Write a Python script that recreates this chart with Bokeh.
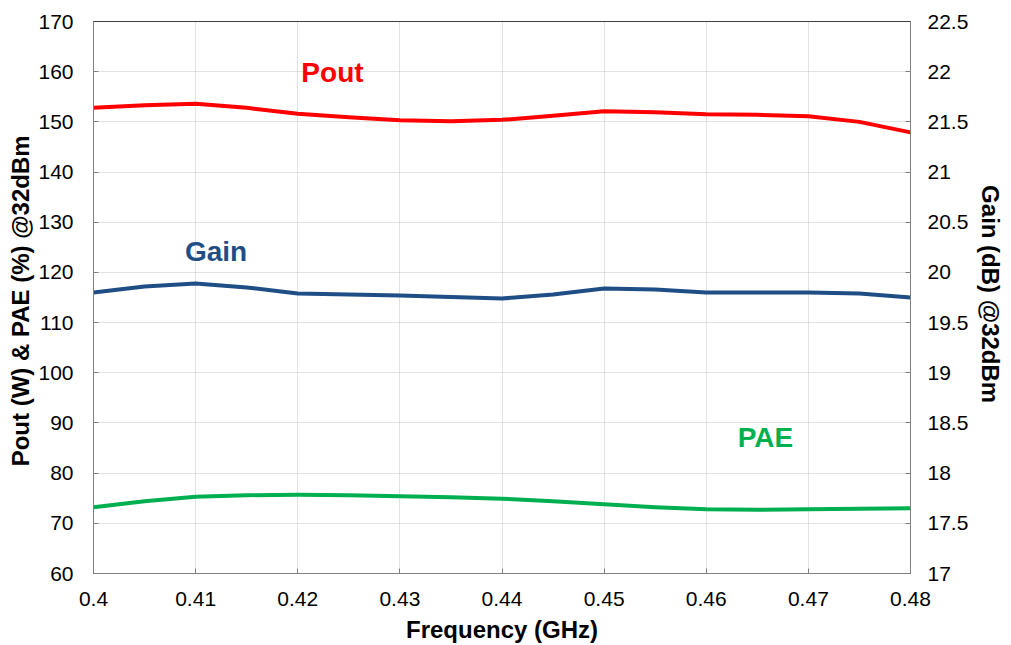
from bokeh.plotting import figure
from bokeh.models import Range1d, LinearAxis, Label, Span, FixedTicker
from bokeh.embed import file_html
from bokeh.resources import INLINE

freq = [0.400, 0.405, 0.410, 0.415, 0.420, 0.425, 0.430, 0.435, 0.440,
        0.445, 0.450, 0.455, 0.460, 0.465, 0.470, 0.475, 0.480]
pout = [152.8, 153.3, 153.6, 152.8, 151.6, 150.9, 150.3, 150.1, 150.4,
        151.2, 152.1, 151.9, 151.5, 151.4, 151.1, 150.0, 147.9]
gain = [19.80, 19.86, 19.89, 19.85, 19.79, 19.78, 19.77, 19.755, 19.74,
        19.78, 19.84, 19.83, 19.80, 19.80, 19.80, 19.79, 19.75]
pae = [73.2, 74.4, 75.3, 75.6, 75.7, 75.6, 75.4, 75.2, 74.9,
       74.4, 73.8, 73.2, 72.8, 72.7, 72.8, 72.9, 73.0]

x_ticks = [0.40, 0.41, 0.42, 0.43, 0.44, 0.45, 0.46, 0.47, 0.48]
left_ticks = [60, 70, 80, 90, 100, 110, 120, 130, 140, 150, 160, 170]
right_ticks = [17, 17.5, 18, 18.5, 19, 19.5, 20, 20.5, 21, 21.5, 22, 22.5]

FONT = "Liberation Sans"
GRID = "#c4c4c4"
AXC = "#808080"

p = figure(frame_width=817, frame_height=552, output_backend="svg", toolbar_location=None,
           x_range=Range1d(0.4, 0.48), y_range=Range1d(60, 170),
           min_border_left=93, min_border_right=10, min_border_top=21, min_border_bottom=10)
p.extra_y_ranges = {"gain": Range1d(17, 22.5)}
p.outline_line_color = AXC
p.background_fill_color = "white"
p.border_fill_color = "white"

for g in (p.xgrid, p.ygrid):
    g.grid_line_color = GRID
    g.grid_line_dash = "1 1"
    g.grid_line_width = 1

def style(ax, ticks, standoff):
    ax.ticker = FixedTicker(ticks=ticks)
    ax.axis_line_color = AXC
    ax.major_tick_line_color = AXC
    ax.major_tick_in = 5
    ax.major_tick_out = 0
    ax.minor_tick_line_color = None
    ax.major_label_text_font = FONT
    ax.major_label_text_font_size = "21px"
    ax.major_label_text_color = "#000000"
    ax.major_label_standoff = standoff
    ax.axis_label_text_font = FONT
    ax.axis_label_text_font_size = "24px"
    ax.axis_label_text_font_style = "bold"
    ax.axis_label_text_color = "#000000"

xa = p.xaxis[0]
style(xa, x_ticks, 18)
xa.axis_label = "Frequency (GHz)"
xa.axis_label_standoff = 7
xa.major_label_overrides = {t: ("%g" % t) for t in x_ticks}

ya = p.yaxis[0]
style(ya, left_ticks, 20)
ya.axis_label = "Pout (W) & PAE (%)  @32dBm"
ya.axis_label_standoff = 1

ra = LinearAxis(y_range_name="gain", axis_label="Gain (dB)  @32dBm")
style(ra, right_ticks, 17)
ra.axis_label_standoff = 6
p.add_layout(ra, "right")

p.add_layout(Span(location=170, dimension="width", line_color="#000000", line_width=1))

p.line(freq, pout, line_color="#FF0000", line_width=4, line_join="round", line_cap="round")
p.line(freq, gain, line_color="#1F4E86", line_width=4, line_join="round", line_cap="round",
       y_range_name="gain")
p.line(freq, pae, line_color="#00B050", line_width=4, line_join="round", line_cap="round")

for txt, x, y, c in [("Pout", 0.4234, 159.8, "#FF0000"),
                     ("Gain", 0.4120, 124.2, "#1F4E86"),
                     ("PAE", 0.4658, 87.1, "#00B050")]:
    p.add_layout(Label(x=x, y=y, text=txt, text_color=c, text_font=FONT,
                       text_font_size="28px", text_font_style="bold",
                       text_align="center", text_baseline="middle"))

open("out.html", "w").write(file_html(p, INLINE))
